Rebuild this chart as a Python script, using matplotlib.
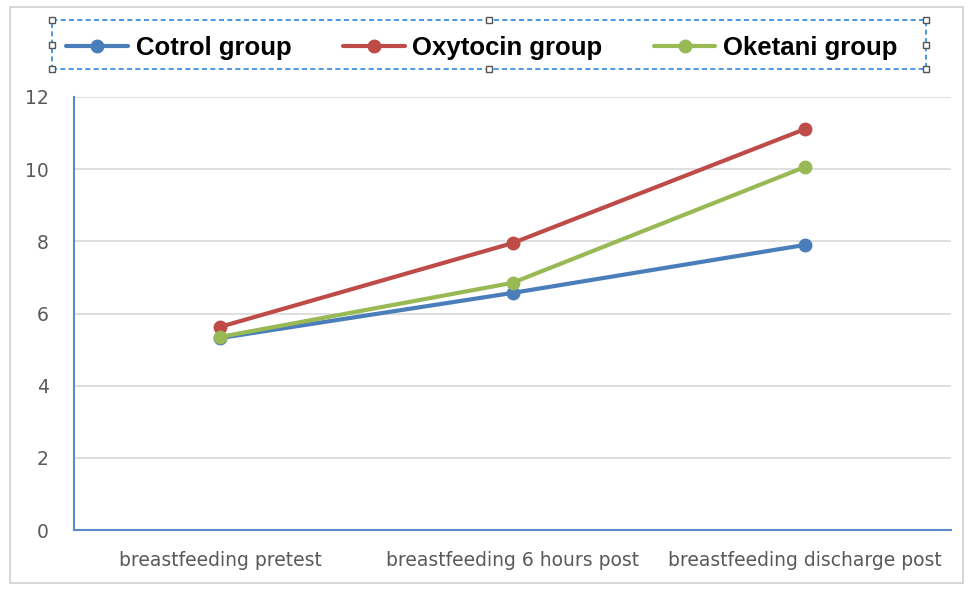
import matplotlib.pyplot as plt
from matplotlib.patches import Rectangle
from matplotlib.lines import Line2D

# data
categories = ['breastfeeding pretest', 'breastfeeding 6 hours post', 'breastfeeding discharge post']
control = [5.32, 6.57, 7.90]
oxytocin = [5.63, 7.95, 11.11]
oketani = [5.35, 6.85, 10.06]
series_names = ['Cotrol group', 'Oxytocin group', 'Oketani group']
colors = ['#4A7EBB', '#BE4B48', '#98B954']

fig = plt.figure(figsize=(9.69, 5.89), dpi=100)
ax = fig.add_axes([74/969, 59/589, 877/969, 433/589])

x = range(len(categories))
handles = []
for vals, name, c in zip([control, oxytocin, oketani], series_names, colors):
    h, = ax.plot(x, vals, color=c, lw=3, marker='o', ms=9, label=name,
                 solid_capstyle='round')
    handles.append(h)

ax.set_xlim(-0.5, 2.5)
ax.set_ylim(0, 12)
ax.set_yticks(range(0, 13, 2))
ax.set_xticks(list(x))
ax.set_xticklabels(categories)
ax.grid(axis='y', color='#D9D9D9', lw=1.2)
ax.set_axisbelow(True)
for s in ['top', 'right']:
    ax.spines[s].set_visible(False)
for s in ['left', 'bottom']:
    ax.spines[s].set_color('#5B8BC9')
    ax.spines[s].set_linewidth(1.5)
ax.tick_params(length=0, colors='#595959')
ax.tick_params(axis='x', labelsize=13.5, pad=15)
ax.tick_params(axis='y', labelsize=13.5, pad=18)

leg = fig.legend(handles=handles, loc='center', bbox_to_anchor=(482/969, 1 - 48/589),
                 ncol=3, frameon=False, handlelength=2.4, columnspacing=2.0,
                 handletextpad=0.3, prop={'family': 'Liberation Sans', 'weight': 'bold', 'size': 18.5})

# selection box around the legend
box = Rectangle((52/969, 1 - 69/589), 874/969, 49/589, transform=fig.transFigure,
                fill=False, ec='#2E86DE', ls=(0, (3, 2)), lw=1.2)
fig.add_artist(box)
for px in [52, 489, 926]:
    for py in [20, 69]:
        fig.add_artist(Line2D([px/969], [1 - py/589], transform=fig.transFigure, marker='s',
                              ms=5, mfc='white', mec='#555555', mew=1, ls='none'))
for px in [52, 926]:
    fig.add_artist(Line2D([px/969], [1 - 45/589], transform=fig.transFigure, marker='s',
                          ms=5, mfc='white', mec='#555555', mew=1, ls='none'))

# outer chart border
fig.add_artist(Rectangle((10/969, 6/589), 1 - 16/969, 1 - 13/589, transform=fig.transFigure,
                         fill=False, ec='#D0D0D0', lw=1.2))

fig.savefig('out.png', dpi=100)
